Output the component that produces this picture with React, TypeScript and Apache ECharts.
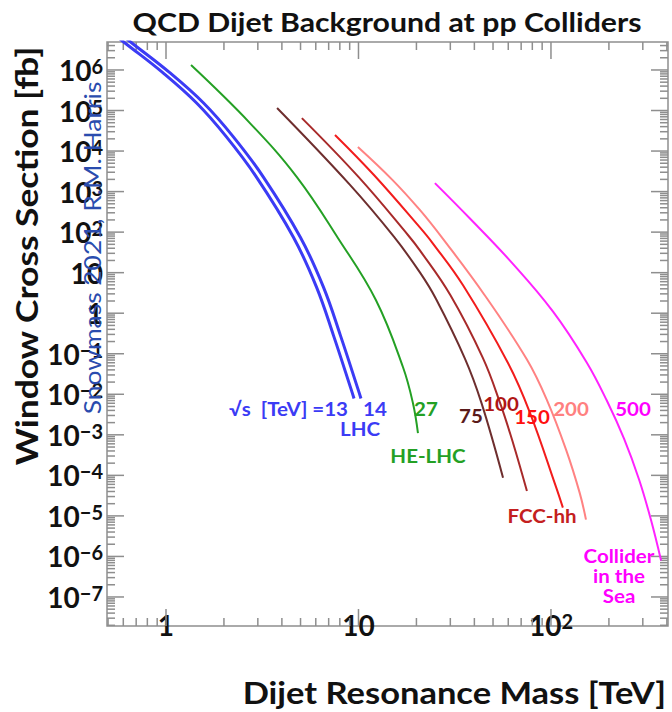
import React, { useEffect, useRef } from "react";
import * as echarts from "echarts";

const FONT = "Lato, 'Open Sans', sans-serif";

// Dijet resonance mass [TeV] and window cross section [fb] for each collider energy
const massLHC13 = [0.481, 0.61, 0.959, 1.442, 2.051, 2.951, 4.592, 6.053, 7.413, 9.204, 9.48];
const xsecLHC13 = [1.15e7, 4.7e6, 8.7e5, 1.53e5, 2.3e4, 2.28e3, 75, 4.4, 0.284, 0.0123, 7.9e-3];

const massLHC14 = [0.522, 0.662, 1.042, 1.567, 2.228, 3.206, 4.989, 6.577, 8.054, 10.0, 10.3];
const xsecLHC14 = [1.15e7, 4.7e6, 8.7e5, 1.53e5, 2.3e4, 2.28e3, 75, 4.4, 0.284, 0.0123, 7.9e-3];

const massHE27 = [1.349, 2.729, 4.786, 7.834, 12.33, 17.02, 19.19, 20.37];
const xsecHE27 = [1.32e6, 4.9e4, 2.28e3, 70.8, 2.09, 0.047, 6.0e-3, 1.1e-3];

const massFCC75 = [3.776, 9.036, 15.31, 20.89, 25.29, 35.73, 43.45, 56.36];
const xsecFCC75 = [1.15e5, 1.46e3, 76, 10, 2.24, 0.076, 6.3e-3, 8.7e-5];

const massFCC100 = [5.08, 10, 18.07, 20.89, 30.0, 44.26, 54.33, 63.53, 75];
const xsecFCC100 = [6.5e4, 2.3e3, 85, 35, 2.8, 0.079, 6.2e-3, 6.3e-4, 4.1e-5];

const massFCC150 = [7.55, 12.0, 20.89, 24.1, 35.0, 59.8, 77.8, 106.2, 115.3];
const xsecFCC150 = [2.5e4, 2.6e3, 129, 56, 4.8, 0.059, 3.5e-3, 5.2e-5, 1.6e-5];

const massFCC200 = [9.93, 15.0, 20.89, 27.48, 44.98, 75.0, 95.3, 120, 141, 152];
const xsecFCC200 = [1.26e4, 1.95e3, 347, 68, 2.9, 0.072, 7.2e-3, 4.2e-4, 3.7e-5, 8.1e-6];

const massSea500 = [24.95, 37.93, 61.24, 102.3, 153.1, 195, 239.9, 287.1, 330.4, 373.3];
const xsecSea500 = [1.62e3, 217, 19.8, 1.11, 0.062, 7.0e-3, 7.9e-4, 7.8e-5, 8.1e-6, 7.9e-7];

// Axis ranges, in decades
const X_MIN = -0.3065;
const X_MAX = 2.608;
const Y_MIN = -7.716;
const Y_MAX = 6.69;

const X_DECADES = [-1, 0, 1, 2];
const Y_DECADES = [-8, -7, -6, -5, -4, -3, -2, -1, 0, 1, 2, 3, 4, 5, 6];
const MINOR_STEPS = [2, 3, 4, 5, 6, 7, 8, 9];

const BLUE = "#3b3bf5";
const GREEN = "#24a024";
const BROWN = "#6e2e2e";
const DARKRED = "#a82a2a";
const RED = "#f21c1c";
const SALMON = "#ff8282";
const MAGENTA = "#ff22ff";
const FRAME = "#8e8e8e";

const curves = [
  { mass: massLHC13, xsec: xsecLHC13, color: BLUE, width: 3 },
  { mass: massLHC14, xsec: xsecLHC14, color: BLUE, width: 3 },
  { mass: massHE27, xsec: xsecHE27, color: GREEN, width: 2 },
  { mass: massFCC75, xsec: xsecFCC75, color: BROWN, width: 2 },
  { mass: massFCC100, xsec: xsecFCC100, color: DARKRED, width: 2 },
  { mass: massFCC150, xsec: xsecFCC150, color: RED, width: 2 },
  { mass: massFCC200, xsec: xsecFCC200, color: SALMON, width: 2 },
  { mass: massSea500, xsec: xsecSea500, color: MAGENTA, width: 2 },
];

function buildTicks(decades: number[], kind: number, lo: number, hi: number) {
  const out: number[][] = [];
  decades.forEach((d) => {
    if (d >= lo && d <= hi) out.push([kind, d, 1]);
    MINOR_STEPS.forEach((k) => {
      const v = d + Math.log10(k);
      if (v > lo && v < hi) out.push([kind, v, 0]);
    });
  });
  return out;
}

const labelRich = {
  b: { fontFamily: FONT, fontWeight: "bold", fontSize: 28, lineHeight: 28, color: "#111", verticalAlign: "bottom", padding: [8, 0, 0, 0] },
  s: { fontFamily: FONT, fontWeight: "bold", fontSize: 20, lineHeight: 20, color: "#111", verticalAlign: "top" },
};

function decadeLabel(v: number) {
  const n = Math.round(v);
  if (Math.abs(v - n) > 1e-6) return "";
  if (n === 0) return "{b|1}";
  if (n === 1) return "{b|10}";
  return "{b|10}{s|" + String(n).replace("-", "\u2212") + "}";
}

function annotation(text: string, x: number, y: number, color: string, align = "center") {
  return {
    type: "text",
    x,
    y,
    z: 20,
    scaleX: 1.08,
    style: { text, fill: color, font: `bold 19px ${FONT}`, align, verticalAlign: "middle", lineHeight: 20 },
  };
}

export default function App() {
  const ref = useRef<HTMLDivElement>(null);

  useEffect(() => {
    if (!ref.current) return;
    const chart = echarts.init(ref.current, null, { renderer: "svg" });

    const tickData = [
      ...buildTicks(X_DECADES, 0, X_MIN, X_MAX),
      ...buildTicks(Y_DECADES, 1, Y_MIN, Y_MAX),
    ];

    const lineSeries = curves.map((c) => ({
      type: "line",
      data: c.mass.map((m, i) => [Math.log10(m), Math.log10(c.xsec[i])]),
      showSymbol: false,
      smooth: 0.4,
      clip: true,
      silent: true,
      z: 5,
      lineStyle: { color: c.color, width: c.width },
    }));

    chart.setOption({
      animation: false,
      backgroundColor: "#ffffff",
      grid: {
        left: 107,
        right: 4,
        top: 42,
        bottom: 86,
        show: true,
        borderColor: FRAME,
        borderWidth: 1.5,
        backgroundColor: "transparent",
      },
      xAxis: {
        type: "value",
        min: X_MIN,
        max: X_MAX,
        splitNumber: 3,
        axisLine: { show: false },
        axisTick: { show: false },
        splitLine: { show: false },
        axisLabel: { interval: 0, margin: -15, formatter: decadeLabel, rich: labelRich },
      },
      yAxis: {
        type: "value",
        min: Y_MIN,
        max: Y_MAX,
        splitNumber: 14,
        axisLine: { show: false },
        axisTick: { show: false },
        splitLine: { show: false },
        axisLabel: { interval: 0, margin: 4, formatter: decadeLabel, rich: labelRich },
      },
      series: [
        {
          type: "custom",
          silent: true,
          clip: false,
          z: 2,
          data: tickData,
          renderItem: (params: any, api: any) => {
            const kind = api.value(0);
            const v = api.value(1);
            const len = api.value(2) ? 17 : 8;
            const cs = params.coordSys;
            const style = { stroke: FRAME, lineWidth: 1.5 };
            if (kind === 0) {
              const px = api.coord([v, Y_MIN])[0];
              const yb = cs.y + cs.height;
              return {
                type: "group",
                children: [
                  { type: "line", shape: { x1: px, y1: yb, x2: px, y2: yb - len }, style },
                  { type: "line", shape: { x1: px, y1: cs.y, x2: px, y2: cs.y + len }, style },
                ],
              };
            }
            const py = api.coord([X_MIN, v])[1];
            const xr = cs.x + cs.width;
            return {
              type: "group",
              children: [
                { type: "line", shape: { x1: cs.x, y1: py, x2: cs.x + len, y2: py }, style },
                { type: "line", shape: { x1: xr, y1: py, x2: xr - len, y2: py }, style },
              ],
            };
          },
        },
        ...lineSeries,
      ],
      graphic: [
        {
          type: "text",
          x: 387,
          y: 22,
          scaleX: 1.12,
          style: { text: "QCD Dijet Background at pp Colliders", fill: "#111", font: `bold 27px ${FONT}`, align: "center", verticalAlign: "middle" },
        },
        {
          type: "text",
          x: 666,
          y: 692,
          scaleX: 1.15,
          style: { text: "Dijet Resonance Mass [TeV]", fill: "#111", font: `bold 30px ${FONT}`, align: "right", verticalAlign: "middle" },
        },
        {
          type: "text",
          x: 27,
          y: 256,
          rotation: Math.PI / 2,
          scaleX: 1.18,
          style: { text: "Window Cross Section [fb]", fill: "#111", font: `bold 30px ${FONT}`, align: "center", verticalAlign: "middle" },
        },
        {
          type: "text",
          x: 91,
          y: 248,
          z: 30,
          rotation: Math.PI / 2,
          scaleX: 1.1,
          style: { text: "Snowmass 2021, R.M. Harris", fill: "#2a4cae", font: `24px ${FONT}`, align: "center", verticalAlign: "middle" },
        },
        annotation("\u221As  [TeV] =13", 348, 408, BLUE, "right"),
        annotation("14", 375, 408, BLUE),
        annotation("LHC", 360, 428, BLUE),
        annotation("27", 426, 408, GREEN),
        annotation("HE-LHC", 428, 455, GREEN),
        annotation("75", 471, 415, "#5a1a1a"),
        annotation("100", 501, 403, "#b01515"),
        annotation("150", 532, 416, "#ff1010"),
        annotation("200", 571, 408, "#ff8080"),
        annotation("500", 633, 408, "#ff00ff"),
        annotation("FCC-hh", 542, 515, "#c42020"),
        annotation("Collider\nin the\nSea", 619, 575, "#ff00ff"),
      ],
    });

    return () => chart.dispose();
  }, []);

  return <div ref={ref} style={{ position: "fixed", left: 0, top: 0, width: 672, height: 712 }} />;
}
